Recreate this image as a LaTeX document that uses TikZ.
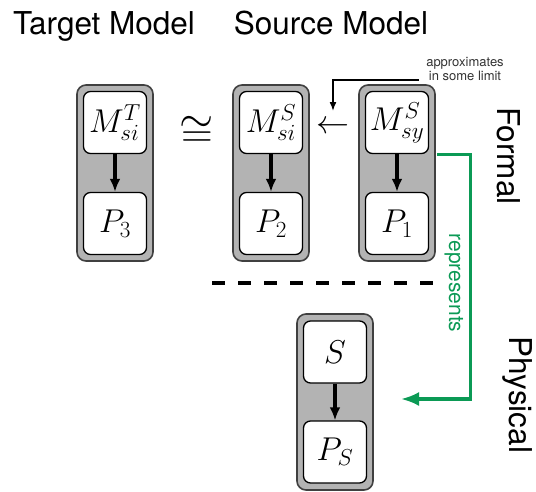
\RequirePackage{fix-cm}
\documentclass[tikz,border=0pt]{standalone}
\usepackage{fontspec}
\setmainfont{TeX Gyre Heros}
\usetikzlibrary{arrows.meta,calc}
\definecolor{boxgray}{HTML}{B3B3B3}
\definecolor{rgreen}{HTML}{0B9A55}
\begin{document}
\begin{tikzpicture}[x=1pt,y=-1pt,
 outerbox/.style={draw=black!75, line width=1.6pt, fill=boxgray, rounded corners=9pt, minimum width=76pt, minimum height=176pt, inner sep=0pt},
 innerbox/.style={draw=black, line width=1.3pt, fill=white, rounded corners=7pt, minimum width=63pt, minimum height=62pt, inner sep=0pt, font=\fontsize{33}{38}\selectfont},
 flow/.style={-{Latex[length=13pt,width=11pt]}, line width=3.3pt},
 title/.style={font=\fontsize{31.5}{36}\selectfont, inner sep=0pt},
 greenpath/.style={draw=rgreen, line width=3.3pt, -{Latex[length=18pt,width=14pt]}},
]
\useasboundingbox (0,0) rectangle (536,491);
% titles
\node[title, anchor=base] (tt) at (104,34) {Target Model};
\node[title, anchor=base] (st) at (331,34) {Source Model};
\node[title, rotate=-90, anchor=base] (fm) at (497,156) {Formal};
\node[title, rotate=-90, anchor=base] (ph) at (509,395) {Physical};
% group 1
\node[outerbox] (o1) at (115,173) {};
\node[innerbox] (t1) at (115,122.5) {$M^T_{si}$};
\node[innerbox] (b1) at (115,223.5) {$P_3$};
\draw[flow] (t1) -- (b1);
% group 2
\node[outerbox] (o2) at (271,173) {};
\node[innerbox] (t2) at (271,122.5) {$M^S_{si}$};
\node[innerbox] (b2) at (271,223.5) {$P_2$};
\draw[flow] (t2) -- (b2);
% group 3
\node[outerbox] (o3) at (397,173) {};
\node[innerbox] (t3) at (397,122.5) {$M^S_{sy}$};
\node[innerbox] (b3) at (397,223.5) {$P_1$};
\draw[flow] (t3) -- (b3);
% physical group
\node[outerbox] (o4) at (335,402) {};
\node[innerbox] (t4) at (335,352) {$S$};
\node[innerbox] (b4) at (335,452) {$P_S$};
\draw[flow] (t4) -- (b4);
% relations
\node[font=\fontsize{44}{46}\selectfont, inner sep=0pt] (cong) at (197,132) {$\cong$};
\node[font=\fontsize{33}{38}\selectfont, inner sep=0pt] (la) at (333,127) {$\leftarrow$};
\node[font=\fontsize{13}{14}\selectfont, align=center, text=black!80, inner sep=0pt] (ap) at (465,69) {approximates\\in some limit};
\coordinate (aps) at (419,80);
\coordinate (ape) at (333,111);
\draw[line width=1.6pt, -{Latex[length=9pt,width=7pt]}] (aps) -| (ape);
% dashed separator
\coordinate (d1) at (212,283);
\coordinate (d2) at (438,283);
\draw[line width=3.3pt, dash pattern=on 13pt off 13pt] (d1) -- (d2);
% represents
\coordinate (gs) at ($(o3.east |- t3.south)+(1.5,0)$);
\coordinate (gend) at (401,399);
\draw[greenpath] (gs) -- ($(gs)+(33,0)$) |- (gend);
\node[font=\fontsize{21}{24}\selectfont, text=rgreen, rotate=-90, anchor=base, inner sep=0pt] (rep) at (449,283) {represents};
\end{tikzpicture}
\end{document}
